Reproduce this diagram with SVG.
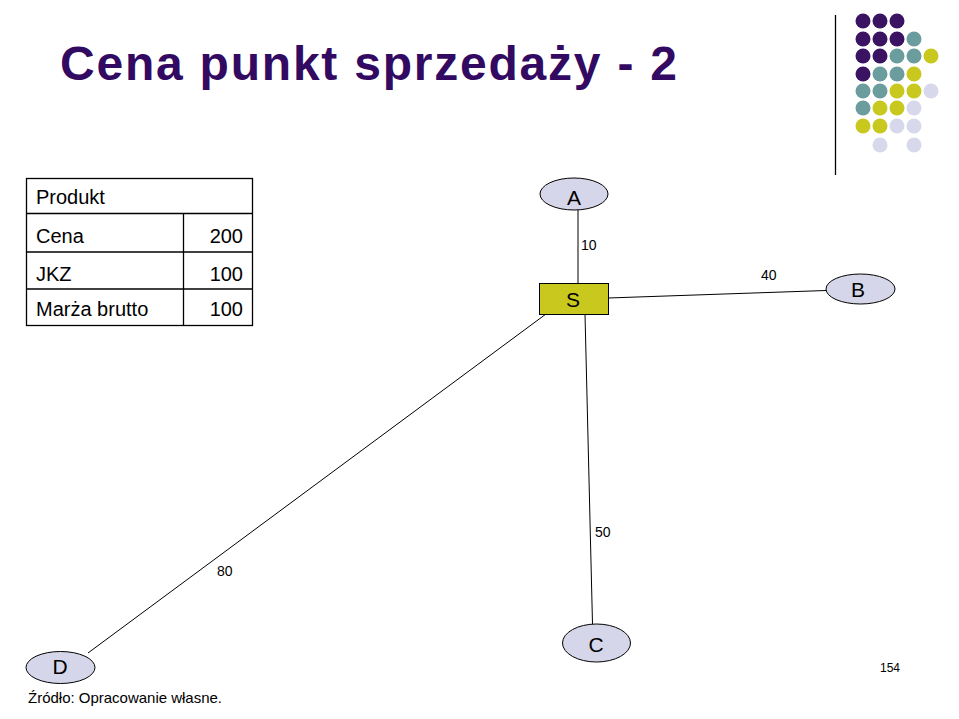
<svg xmlns="http://www.w3.org/2000/svg" width="959" height="719" viewBox="0 0 959 719">
<style>
text{font-family:"Liberation Sans",Arial,sans-serif;fill:#000}
.title{font-size:48px;font-weight:bold;fill:#330a62}
.cell{font-size:20px}
.node{fill:#d6d6ea;stroke:#000;stroke-width:1}
.nl{font-size:21px;text-anchor:middle}
.lbl{font-size:14px}
.conn line{stroke:#000;stroke-width:1}
.tb{fill:#fff;stroke:#000;stroke-width:1.3}
.p{fill:#3a1463}.t{fill:#6b9c9e}.y{fill:#c8c81e}.l{fill:#d8d8ec}
</style>
<rect width="959" height="719" fill="#fff"/>
<text class="title" x="60" y="80" textLength="617" lengthAdjust="spacing">Cena punkt sprzedaży - 2</text>
<line x1="835.5" y1="15" x2="835.5" y2="175" stroke="#000" stroke-width="1.3"/>
<g id="dots">
<circle class="p" cx="863" cy="21" r="7.5"/><circle class="p" cx="880" cy="21" r="7.5"/><circle class="p" cx="897" cy="21" r="7.5"/>
<circle class="p" cx="863" cy="39" r="7.5"/><circle class="p" cx="880" cy="39" r="7.5"/><circle class="p" cx="897" cy="39" r="7.5"/><circle class="t" cx="914" cy="39" r="7.5"/>
<circle class="p" cx="863" cy="56" r="7.5"/><circle class="p" cx="880" cy="56" r="7.5"/><circle class="t" cx="897" cy="56" r="7.5"/><circle class="t" cx="914" cy="56" r="7.5"/><circle class="y" cx="931" cy="56" r="7.5"/>
<circle class="p" cx="863" cy="74" r="7.5"/><circle class="t" cx="880" cy="74" r="7.5"/><circle class="t" cx="897" cy="74" r="7.5"/><circle class="y" cx="914" cy="74" r="7.5"/>
<circle class="t" cx="863" cy="91" r="7.5"/><circle class="t" cx="880" cy="91" r="7.5"/><circle class="y" cx="897" cy="91" r="7.5"/><circle class="y" cx="914" cy="91" r="7.5"/><circle class="l" cx="931" cy="91" r="7.5"/>
<circle class="t" cx="863" cy="108" r="7.5"/><circle class="y" cx="880" cy="108" r="7.5"/><circle class="y" cx="897" cy="108" r="7.5"/><circle class="l" cx="914" cy="108" r="7.5"/>
<circle class="y" cx="863" cy="126" r="7.5"/><circle class="y" cx="880" cy="126" r="7.5"/><circle class="l" cx="897" cy="126" r="7.5"/><circle class="l" cx="914" cy="126" r="7.5"/>
<circle class="l" cx="880" cy="145" r="7.5"/><circle class="l" cx="914" cy="145" r="7.5"/>
</g>
<g id="table">
<rect class="tb" x="26.5" y="178.5" width="226" height="147"/>
<line x1="26.5" y1="213.5" x2="252.5" y2="213.5" stroke="#000" stroke-width="1.3"/>
<line x1="26.5" y1="252" x2="252.5" y2="252" stroke="#000" stroke-width="1.3"/>
<line x1="26.5" y1="289" x2="252.5" y2="289" stroke="#000" stroke-width="1.3"/>
<line x1="183.5" y1="213.5" x2="183.5" y2="325.5" stroke="#000" stroke-width="1.3"/>
<text class="cell" x="36" y="204">Produkt</text>
<text class="cell" x="36" y="243">Cena</text>
<text class="cell" x="36" y="281">JKZ</text>
<text class="cell" x="36" y="316">Marża brutto</text>
<text class="cell" x="243" y="243" text-anchor="end">200</text>
<text class="cell" x="243" y="281" text-anchor="end">100</text>
<text class="cell" x="243" y="316" text-anchor="end">100</text>
</g>
<g id="connectors" class="conn">
<line x1="578" y1="210" x2="578" y2="283"/>
<line x1="608" y1="298" x2="826" y2="290.5"/>
<line x1="585" y1="314" x2="592.5" y2="624"/>
<line x1="546" y1="314" x2="88" y2="653"/>
<text class="lbl" x="581" y="250">10</text>
<text class="lbl" x="761" y="280">40</text>
<text class="lbl" x="595" y="537">50</text>
<text class="lbl" x="217" y="576">80</text>
</g>
<g id="node-A"><ellipse class="node" cx="574" cy="194" rx="34" ry="16"/><text class="nl" x="574" y="205">A</text></g>
<g id="node-S"><rect x="539.5" y="283.5" width="69" height="31" fill="#c8c81e" stroke="#000" stroke-width="1"/><text class="nl" x="573" y="307">S</text></g>
<g id="node-B"><ellipse class="node" cx="860.5" cy="289" rx="34.5" ry="15"/><text class="nl" x="858" y="297">B</text></g>
<g id="node-C"><ellipse class="node" cx="596.5" cy="643" rx="34" ry="19"/><text class="nl" x="596" y="652">C</text></g>
<g id="node-D"><ellipse class="node" cx="60.5" cy="667.5" rx="34.5" ry="16"/><text class="nl" x="60" y="674">D</text></g>
<text x="28" y="703" font-size="15" textLength="194" lengthAdjust="spacing">Źródło: Opracowanie własne.</text>
<text x="880" y="672" font-size="12">154</text>
</svg>
